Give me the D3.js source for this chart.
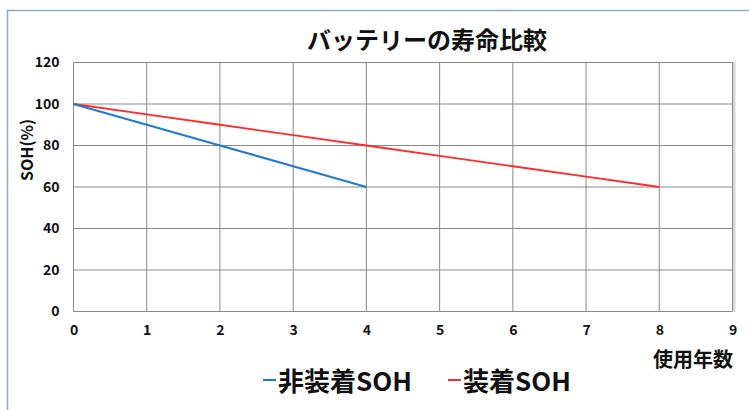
<!DOCTYPE html>
<html><head><meta charset="utf-8">
<script src="https://cdn.jsdelivr.net/npm/d3@7"></script>
<style>
html,body{margin:0;padding:0;background:#fff;}
svg{display:block;font-family:"Noto Sans CJK JP","Noto Sans",sans-serif;}
</style></head>
<body>
<script>
const title = "バッテリーの寿命比較";
const yLabel = "SOH(%)";
const xLabel = "使用年数";
const xTicks = [0,1,2,3,4,5,6,7,8,9];
const yTicks = [0,20,40,60,80,100,120];
const seriesNames = ["非装着SOH","装着SOH"];
const seriesColors = ["#1f7bd2","#ff2a2a"];
const yearsA = [0,1,2,3,4];
const sohA = [100,90,80,70,60];
const yearsB = [0,1,2,3,4,5,6,7,8];
const sohB = [100,95,90,85,80,75,70,65,60];

const W=749,H=410;
const svg=d3.select("body").append("svg").attr("width",W).attr("height",H);
// outer frame
svg.append("path").attr("d","M7.5,410 L7.5,10.5 L749,10.5").attr("fill","none")
  .attr("stroke","#8eaad2").attr("stroke-width",1.5);

const x=d3.scaleLinear().domain([0,9]).range([73.5,732.5]);
const y=d3.scaleLinear().domain([0,120]).range([311.5,62.5]);

// shadow at right
svg.append("rect").attr("x",733).attr("y",62).attr("width",2.5).attr("height",250).attr("fill","#d8d8d8");

// grid
const g=svg.append("g");
g.selectAll("line.h").data(yTicks).join("line")
  .attr("x1",x(0)).attr("x2",x(9)).attr("y1",d=>y(d)).attr("y2",d=>y(d))
  .attr("stroke","#8a8a8a").attr("stroke-width",1);
g.selectAll("line.v").data(xTicks).join("line")
  .attr("y1",y(0)).attr("y2",y(120)).attr("x1",d=>x(d)).attr("x2",d=>x(d))
  .attr("stroke","#8a8a8a").attr("stroke-width",1);

// axes labels
const yAxis=d3.axisLeft(y).tickValues(yTicks).tickSize(0).tickPadding(14);
const ya=svg.append("g").attr("transform",`translate(${x(0)},0)`).call(yAxis);
ya.select(".domain").remove();
ya.selectAll("text").attr("font-size",14).attr("font-weight","bold").attr("fill","#111")
  .attr("font-family","'Noto Sans CJK JP',sans-serif");
const xAxis=d3.axisBottom(x).tickValues(xTicks).tickSize(0).tickPadding(14);
const xa=svg.append("g").attr("transform",`translate(0,${y(0)})`).call(xAxis);
xa.select(".domain").remove();
xa.selectAll("text").attr("font-size",14).attr("font-weight","bold").attr("fill","#111")
  .attr("font-family","'Noto Sans CJK JP',sans-serif");

// lines
const line=d3.line().x(d=>x(d[0])).y(d=>y(d[1]));
svg.append("path").datum(yearsB.map((v,i)=>[v,sohB[i]])).attr("d",line)
  .attr("fill","none").attr("stroke",seriesColors[1]).attr("stroke-width",1.8);
svg.append("path").datum(yearsA.map((v,i)=>[v,sohA[i]])).attr("d",line)
  .attr("fill","none").attr("stroke",seriesColors[0]).attr("stroke-width",2.2);

// title
svg.append("text").attr("x",427).attr("y",38).attr("text-anchor","middle")
  .attr("dominant-baseline","central").attr("font-size",24).attr("font-weight","bold")
  .attr("fill","#111").text(title);
// y label
svg.append("text").attr("transform","translate(26,150) rotate(-90)").attr("text-anchor","middle")
  .attr("dominant-baseline","central").attr("font-size",16).attr("font-weight","bold")
  .attr("fill","#111").text(yLabel);
// x label
svg.append("text").attr("x",733).attr("y",358).attr("text-anchor","end")
  .attr("dominant-baseline","central").attr("font-size",20).attr("font-weight","bold")
  .attr("fill","#111").text(xLabel);

// legend
const legX=[263,448];
seriesNames.forEach((n,i)=>{
  svg.append("line").attr("x1",legX[i]).attr("x2",legX[i]+13).attr("y1",380).attr("y2",380)
    .attr("stroke",seriesColors[i]).attr("stroke-width",2);
  svg.append("text").attr("x",legX[i]+15).attr("y",379).attr("dominant-baseline","central")
    .attr("font-size",26).attr("font-weight","bold").attr("fill","#111").text(n);
});
</script>
</body></html>
